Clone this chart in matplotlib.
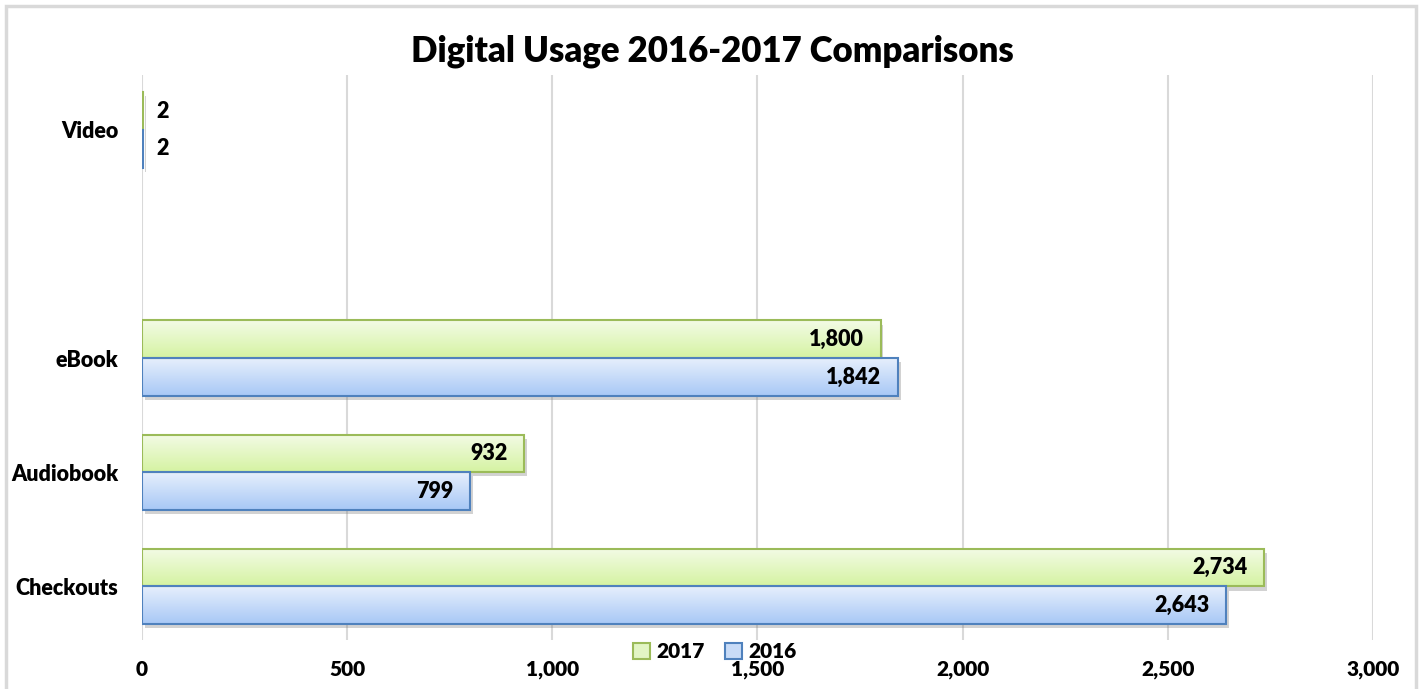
import numpy as np
import matplotlib
matplotlib.use("Agg")
import matplotlib.pyplot as plt
from matplotlib.patches import Rectangle, Patch
from matplotlib.colors import to_rgb
import matplotlib.patheffects as pe

plt.rcParams['font.family'] = ['Lato', 'DejaVu Sans']
plt.rcParams['font.weight'] = 'heavy'

categories = ["Checkouts", "Audiobook", "eBook", "", "Video"]
usage_2017 = [2734, 932, 1800, None, 2]
usage_2016 = [2643, 799, 1842, None, 2]

green_top, green_bot, green_edge = "#f3fbe6", "#d5f3a2", "#9bbb59"
blue_top, blue_bot, blue_edge = "#e6effc", "#a8c8f6", "#4f81bd"

fig = plt.figure(figsize=(14.21, 6.89), dpi=100)
ax = fig.add_axes([0.0999, 0.071, 0.8663, 0.82])

bar_h = 0.33


def gradient_bar(y0, y1, width, top, bot, edge):
    # shadow + gradient fill + outline
    ax.add_patch(Rectangle((0, y0), width, y1 - y0, facecolor="white", edgecolor="none", zorder=2,
                           path_effects=[pe.SimplePatchShadow(offset=(2, -3), shadow_rgbFace="0.5", alpha=0.35),
                                         pe.Normal()]))
    ramp = np.linspace(0, 1, 64)[:, None, None]
    img = (1 - ramp) * np.array(to_rgb(top)) + ramp * np.array(to_rgb(bot))
    ax.imshow(img, extent=[0, width, y0, y1], origin="upper", aspect="auto", zorder=3, interpolation="bilinear")
    ax.add_patch(Rectangle((0, y0), width, y1 - y0, facecolor="none", edgecolor=edge, lw=1.5, zorder=4))


for i, (v17, v16) in enumerate(zip(usage_2017, usage_2016)):
    if v17 is None:
        continue
    gradient_bar(i, i + bar_h, v17, green_top, green_bot, green_edge)
    gradient_bar(i - bar_h, i, v16, blue_top, blue_bot, blue_edge)
    for val, yc in ((v17, i + bar_h / 2), (v16, i - bar_h / 2)):
        if val > 200:
            ax.annotate(f"{val:,}", (val, yc), xytext=(-12, 0), textcoords="offset points",
                        ha="right", va="center", fontsize=15.5, fontweight="heavy", zorder=5)
        else:
            ax.annotate(f"{val:,}", (val, yc), xytext=(10, 0), textcoords="offset points",
                        ha="left", va="center", fontsize=15.5, fontweight="heavy", zorder=5)

ax.set_xlim(0, 3000)
ax.set_ylim(-0.47, 4.48)
ax.set_xticks(np.arange(0, 3001, 500))
ax.set_xticklabels([f"{t:,}" for t in range(0, 3001, 500)])
ax.set_yticks(range(len(categories)))
ax.set_yticklabels(categories)
ax.tick_params(axis="x", length=0, labelsize=15, pad=14)
ax.tick_params(axis="y", length=0, labelsize=15.5, pad=17)
ax.grid(axis="x", color="#d9d9d9", lw=1.5, zorder=0)
ax.set_axisbelow(True)
for s in ax.spines.values():
    s.set_visible(False)

fig.suptitle("Digital Usage 2016-2017 Comparisons", fontsize=25, fontweight="heavy", x=0.501, y=0.95)

handles = [Patch(facecolor="#e2f5c4", edgecolor=green_edge, lw=1.5, label="2017"),
           Patch(facecolor="#c8dbf7", edgecolor=blue_edge, lw=1.5, label="2016")]
fig.legend(handles=handles, loc="center", bbox_to_anchor=(0.503, 1 - 652 / 689), ncol=2, frameon=False,
           fontsize=15, handlelength=0.8, handleheight=0.8, handletextpad=0.3, columnspacing=1.0)

fig.patches.append(Rectangle((6 / 1421, -0.05), 1410 / 1421, 1.05 - 6 / 689, transform=fig.transFigure,
                             facecolor="none", edgecolor="#d9d9d9", lw=2.5))

fig.savefig("out.png", dpi=100)
